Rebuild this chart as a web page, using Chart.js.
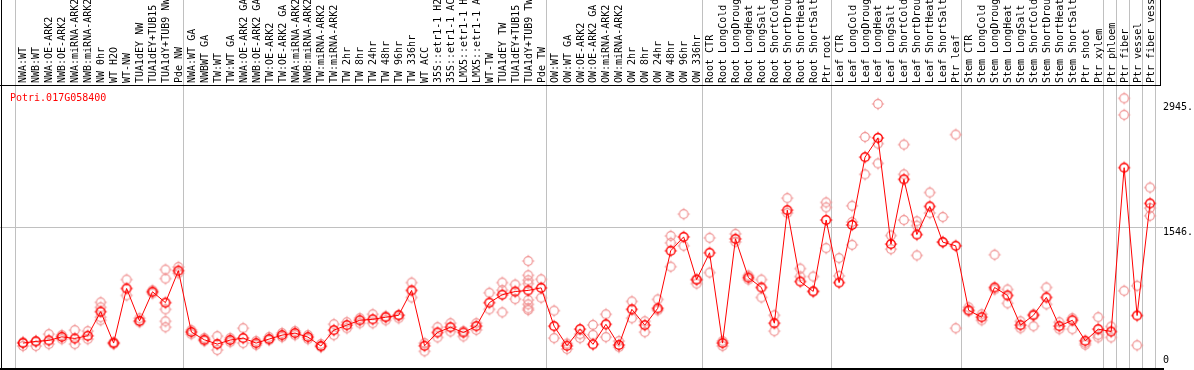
<!DOCTYPE html>
<html><head><meta charset="utf-8">
<script src="https://cdn.jsdelivr.net/npm/chart.js@4.4.1/dist/chart.umd.min.js"></script>
<style>html,body{margin:0;padding:0;background:#fff;overflow:hidden}canvas{display:block}</style>
</head><body>
<canvas id="c" width="1194" height="370"></canvas>
<script>
const title = "Potri.017G058400";
const categories = [
 "NWA:WT","NWB:WT","NWA:OE-ARK2","NWB:OE-ARK2","NWA:miRNA-ARK2","NWB:miRNA-ARK2","NW 0hr","WT H2O","WT-NW","TUA1dEY NW","TUA1dEY+TUB15","TUA1dY+TUB9 NW","Pde NW",
 "NWA:WT GA","NWBWT GA","TW:WT","TW:WT GA","NWA:OE-ARK2 GA","NWB:OE-ARK2 GA","TW:OE-ARK2","TW:OE-ARK2 GA","NWA:miRNA-ARK2","NWB:miRNA-ARK2","TW:miRNA-ARK2","TW:miRNA-ARK2","TW 2hr","TW 8hr","TW 24hr","TW 48hr","TW 96hr","TW 336hr","WT ACC","35S::etr1-1 H2","35S::etr1-1 AC","LMX5::etr1-1 H","LMX5::etr1-1 A","WT-TW","TUA1dEY TW","TUA1dEY+TUB15","TUA1dY+TUB9 TW","Pde TW",
 "OW:WT","OW:WT GA","OW:OE-ARK2","OW:OE-ARK2 GA","OW:miRNA-ARK2","OW:miRNA-ARK2","OW 2hr","OW 8hr","OW 24hr","OW 48hr","OW 96hr","OW 336hr",
 "Root CTR","Root LongCold","Root LongDroug","Root LongHeat","Root LongSalt","Root ShortCold","Root ShortDrou","Root ShortHeat","Root ShortSalt","Ptr root",
 "Leaf CTR","Leaf LongCold","Leaf LongDroug","Leaf LongHeat","Leaf LongSalt","Leaf ShortCold","Leaf ShortDrou","Leaf ShortHeat","Leaf ShortSalt","Ptr leaf",
 "Stem CTR","Stem LongCold","Stem LongDroug","Stem LongHeat","Stem LongSalt","Stem ShortCold","Stem ShortDrou","Stem ShortHeat","Stem ShortSalt","Ptr shoot","Ptr xylem","Ptr phloem","Ptr fiber","Ptr vessel","Ptr fiber vess"
];
const means = [
 246,265,276,316,298,328,599,246,859,495,822,700,1059,
 370,283,235,280,302,246,291,335,358,313,213,391,447,502,513,536,558,837,216,365,424,365,436,700,789,825,837,866,
 436,216,402,232,457,224,625,447,636,1282,1438,959,
 1260,246,1416,981,870,469,1738,937,826,1627,
 925,1572,2333,2549,1357,2084,1464,1780,1379,1338,
 614,536,870,781,447,558,759,436,502,272,402,376,2215,555,1814
];
const replicates = [
 [257,213],[268,213],[346,235],[335,290],[391,235],[380,290],[703,647,536,502],[257,235],[959,781],[525,480],[837,803],[1071,970,625,491,424],[1030,1100],
 [391,346],[268,302],[324,168],[302,257],[413,246],[268,224],[313,279],[358,313],[380,335],[335,290],[235,201],[458,335],[480,413],[525,469],[569,469],[547,502],[558,525],[925,758],[154,246],[424,310],[469,376],[321,380],[469,394],[811,625],[925,840,591],[903,740],[1167,1007,951,914,729,681,636,617],[962,755],
 [610,302],[179,240],[302,346],[450,339],[569,313],[268,201],[714,525],[491,369],[736,614],[1449,1371,1104],[1694,1338],[959,914],
 [1427,1037],[268,213],[1472,1382],[1004,959],[959,758],[558,380],[1873,1706],[1082,993],[993,826],[1825,1769,1312],
 [1200,1000],[1787,1605,1349],[2560,2140],[2931,2485,2263],[1453,1300],[2474,2140,1627],[1613,1564,1230],[1936,1706],[1661,1380],[2586,413],
 [647,603],[569,502],[1238,848],[848,692],[491,413],[569,435],[870,681],[480,402],[525,402],[246,227],[536,339,310],[432,310],[2994,2808,833],[889,221],[1992,1761,1675]
];
const yTickValues = [2945, 1546, 0];
const yTickLabels = ["2945.", "1546.", "0"];
const gridValues = [1546];
const groupStarts = [0,13,41,53,63,73,84,85,86,87,88];

const FONT = "10px 'DejaVu Sans Mono', monospace";

function marker(color, lw){
  const c = document.createElement('canvas'); c.width = 16; c.height = 16;
  const g = c.getContext('2d'); g.strokeStyle = color; g.lineWidth = lw;
  g.beginPath(); g.arc(8,8,4.3,0,Math.PI*2); g.stroke();
  g.lineWidth = 1;
  g.beginPath();
  g.moveTo(8,1.8); g.lineTo(8,3.6);
  g.moveTo(8,12.4); g.lineTo(8,14.2);
  g.moveTo(1.8,8); g.lineTo(3.6,8);
  g.moveTo(12.4,8); g.lineTo(14.2,8);
  g.stroke();
  return c;
}
const meanMarker = marker('#ff0000', 1.4);
const repMarker = marker('#f09494', 1.2);

const repPoints = [];
replicates.forEach((arr,i)=>arr.forEach(v=>repPoints.push({x:i,y:v})));

const decor = {
  id:'decor',
  beforeDatasetsDraw(chart){
    const ctx = chart.ctx, x = chart.scales.x, y = chart.scales.y;
    ctx.save();
    ctx.fillStyle = '#c0c0c0';
    groupStarts.forEach(s=>{
      const px = Math.round(x.getPixelForValue(s - 0.58) - 0.5);
      ctx.fillRect(px, 0, 1, 368);
    });
    gridValues.forEach(v=>{
      const py = Math.round(y.getPixelForValue(v) - 0.5);
      ctx.fillRect(0, py, 1163, 1);
    });
    ctx.restore();
  },
  afterDraw(chart){
    const ctx = chart.ctx, x = chart.scales.x, y = chart.scales.y;
    ctx.save();
    ctx.fillStyle = '#000';
    ctx.fillRect(0, 85, 1161, 1);
    ctx.fillRect(1160, 0, 1, 86);
    ctx.fillRect(1, 0, 1, 370);
    ctx.fillRect(0, 368, 1164, 2);
    ctx.font = FONT;
    ctx.textBaseline = 'alphabetic';
    ctx.textAlign = 'left';
    categories.forEach((lab,i)=>{
      const px = x.getPixelForValue(i);
      ctx.save();
      ctx.translate(px + 3.5, 83);
      ctx.rotate(-Math.PI/2);
      ctx.fillText(lab, 0, 0);
      ctx.restore();
    });
    yTickValues.forEach((v,k)=>{
      const py = y.getPixelForValue(v);
      ctx.fillText(yTickLabels[k], 1163, v === 0 ? py - 2 : py + 7.5);
    });
    ctx.fillStyle = '#ff0000';
    ctx.fillText(title, 10, 101);
    ctx.restore();
  }
};

new Chart(document.getElementById('c'), {
  data: {
    datasets: [
      {type:'line', data: means.map((v,i)=>({x:i,y:v})), borderColor:'#ff0000', borderWidth:1, pointStyle: meanMarker, tension:0, order:0},
      {type:'scatter', data: repPoints, pointStyle: repMarker, order:1}
    ]
  },
  options: {
    responsive:false, animation:false, devicePixelRatio:1,
    layout:{padding:{left:1,right:31,top:85,bottom:3}},
    plugins:{legend:{display:false}, tooltip:{enabled:false}},
    scales:{
      x:{type:'linear', min:-1.385, max:88, display:false},
      y:{type:'linear', min:0, max:3143, display:false}
    }
  },
  plugins:[decor]
});
</script>
</body></html>
